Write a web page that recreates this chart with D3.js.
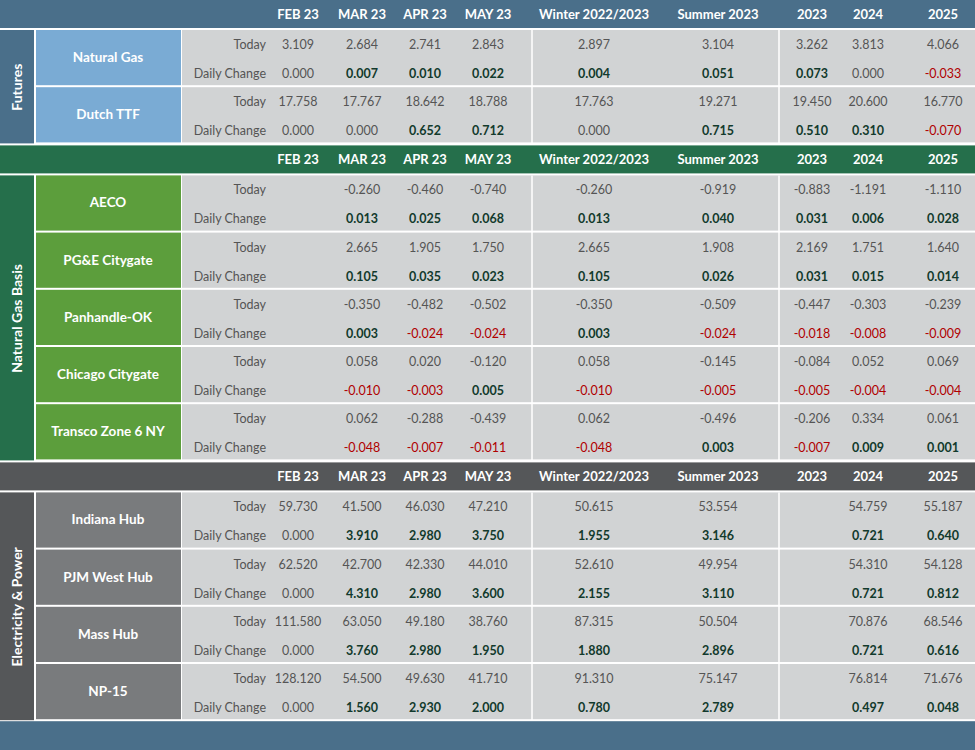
<!DOCTYPE html>
<html><head><meta charset="utf-8">
<script src="https://d3js.org/d3.v7.min.js"></script>
<style>
  body { margin: 0; background: #fff; }
  svg text { font-family: Lato, "Open Sans", sans-serif; }
</style></head>
<body>
<script>
  var columns = ["FEB 23", "MAR 23", "APR 23", "MAY 23", "Winter 2022/2023", "Summer 2023", "2023", "2024", "2025"];
  var colX = [298, 362, 425, 488, 594, 718, 812, 868, 943];

  var futuresItems = ["Natural Gas", "Dutch TTF"];
  var futuresToday = [
    [3.109, 2.684, 2.741, 2.843, 2.897, 3.104, 3.262, 3.813, 4.066],
    [17.758, 17.767, 18.642, 18.788, 17.763, 19.271, 19.450, 20.600, 16.770]
  ];
  var futuresChange = [
    [0.000, 0.007, 0.010, 0.022, 0.004, 0.051, 0.073, 0.000, -0.033],
    [0.000, 0.000, 0.652, 0.712, 0.000, 0.715, 0.510, 0.310, -0.070]
  ];

  var basisItems = ["AECO", "PG&E Citygate", "Panhandle-OK", "Chicago Citygate", "Transco Zone 6 NY"];
  var basisToday = [
    [null, -0.260, -0.460, -0.740, -0.260, -0.919, -0.883, -1.191, -1.110],
    [null, 2.665, 1.905, 1.750, 2.665, 1.908, 2.169, 1.751, 1.640],
    [null, -0.350, -0.482, -0.502, -0.350, -0.509, -0.447, -0.303, -0.239],
    [null, 0.058, 0.020, -0.120, 0.058, -0.145, -0.084, 0.052, 0.069],
    [null, 0.062, -0.288, -0.439, 0.062, -0.496, -0.206, 0.334, 0.061]
  ];
  var basisChange = [
    [null, 0.013, 0.025, 0.068, 0.013, 0.040, 0.031, 0.006, 0.028],
    [null, 0.105, 0.035, 0.023, 0.105, 0.026, 0.031, 0.015, 0.014],
    [null, 0.003, -0.024, -0.024, 0.003, -0.024, -0.018, -0.008, -0.009],
    [null, -0.010, -0.003, 0.005, -0.010, -0.005, -0.005, -0.004, -0.004],
    [null, -0.048, -0.007, -0.011, -0.048, 0.003, -0.007, 0.009, 0.001]
  ];

  var powerItems = ["Indiana Hub", "PJM West Hub", "Mass Hub", "NP-15"];
  var powerToday = [
    [59.730, 41.500, 46.030, 47.210, 50.615, 53.554, null, 54.759, 55.187],
    [62.520, 42.700, 42.330, 44.010, 52.610, 49.954, null, 54.310, 54.128],
    [111.580, 63.050, 49.180, 38.760, 87.315, 50.504, null, 70.876, 68.546],
    [128.120, 54.500, 49.630, 41.710, 91.310, 75.147, null, 76.814, 71.676]
  ];
  var powerChange = [
    [0.000, 3.910, 2.980, 3.750, 1.955, 3.146, null, 0.721, 0.640],
    [0.000, 4.310, 2.980, 3.600, 2.155, 3.110, null, 0.721, 0.812],
    [0.000, 3.760, 2.980, 1.950, 1.880, 2.896, null, 0.721, 0.616],
    [0.000, 1.560, 2.930, 2.000, 0.780, 2.789, null, 0.497, 0.048]
  ];

  var sections = [
    {name: "Futures", items: futuresItems, today: futuresToday, change: futuresChange,
     header: "#4a6f8a", group: "#4a6f8a", item: "#7aabd4"},
    {name: "Natural Gas Basis", items: basisItems, today: basisToday, change: basisChange,
     header: "#256f4b", group: "#256f4b", item: "#5c9e3c"},
    {name: "Electricity & Power", items: powerItems, today: powerToday, change: powerChange,
     header: "#555759", group: "#555759", item: "#797b7d"}
  ];

  var W = 975, H = 750, headerH = 28, rowH = 57.2;
  var svg = d3.select("body").append("svg").attr("width", W).attr("height", H);
  svg.append("rect").attr("width", W).attr("height", H).attr("fill", "#fff");

  var fmt = function(v) { return d3.format(".3f")(v).replace("\u2212", "-"); };
  var y = 0;
  sections.forEach(function(s, si) {
    if (si > 0) y += 1;
    svg.append("rect").attr("x", 0).attr("y", y).attr("width", W).attr("height", headerH).attr("fill", s.header);
    svg.selectAll(null).data(columns).enter().append("text")
      .attr("x", function(d, i) { return colX[i]; }).attr("y", y + 19)
      .attr("text-anchor", "middle").attr("fill", "#fff")
      .attr("font-size", 13).attr("font-weight", "bold").text(function(d) { return d; });
    y += headerH + 2;
    var top = y, h = s.items.length * rowH;
    svg.append("rect").attr("x", 0).attr("y", top).attr("width", 34).attr("height", h - 1).attr("fill", s.group);
    svg.append("text").attr("transform", "translate(22," + (top + h / 2) + ") rotate(-90)")
      .attr("text-anchor", "middle").attr("fill", "#fff").attr("font-size", 14).attr("font-weight", "bold").text(s.name);
    s.items.forEach(function(name, r) {
      var ry = top + r * rowH;
      svg.append("rect").attr("x", 36).attr("y", ry).attr("width", 145).attr("height", rowH - 2).attr("fill", s.item);
      svg.append("rect").attr("x", 182).attr("y", ry).attr("width", W - 182).attr("height", rowH - 2).attr("fill", "#d1d3d4");
      svg.append("text").attr("x", 108).attr("y", ry + 32).attr("text-anchor", "middle").attr("fill", "#fff")
        .attr("font-size", 13.5).attr("font-weight", "bold").text(name);
      [["Today", s.today[r], 19], ["Daily Change", s.change[r], 48]].forEach(function(line, k) {
        svg.append("text").attr("x", 266).attr("y", ry + line[2]).attr("text-anchor", "end")
          .attr("fill", "#555").attr("font-size", 12.5).text(line[0]);
        line[1].forEach(function(v, i) {
          if (v === null) return;
          var col = "#555", wt = "normal";
          if (k === 1 && v > 0) { col = "#123a2c"; wt = "bold"; }
          if (k === 1 && v < 0) { col = "#b00000"; }
          svg.append("text").attr("x", colX[i]).attr("y", ry + line[2]).attr("text-anchor", "middle")
            .attr("fill", col).attr("font-size", 12.5).attr("font-weight", wt).text(fmt(v));
        });
      });
    });
    [532, 779].forEach(function(x) {
      svg.append("line").attr("x1", x).attr("x2", x).attr("y1", top).attr("y2", top + h)
        .attr("stroke", "#fff").attr("stroke-width", 1.5);
    });
    y = top + h;
  });
  svg.append("rect").attr("x", 0).attr("y", y).attr("width", W).attr("height", H - y).attr("fill", "#4a6f8a");
</script>
</body></html>
